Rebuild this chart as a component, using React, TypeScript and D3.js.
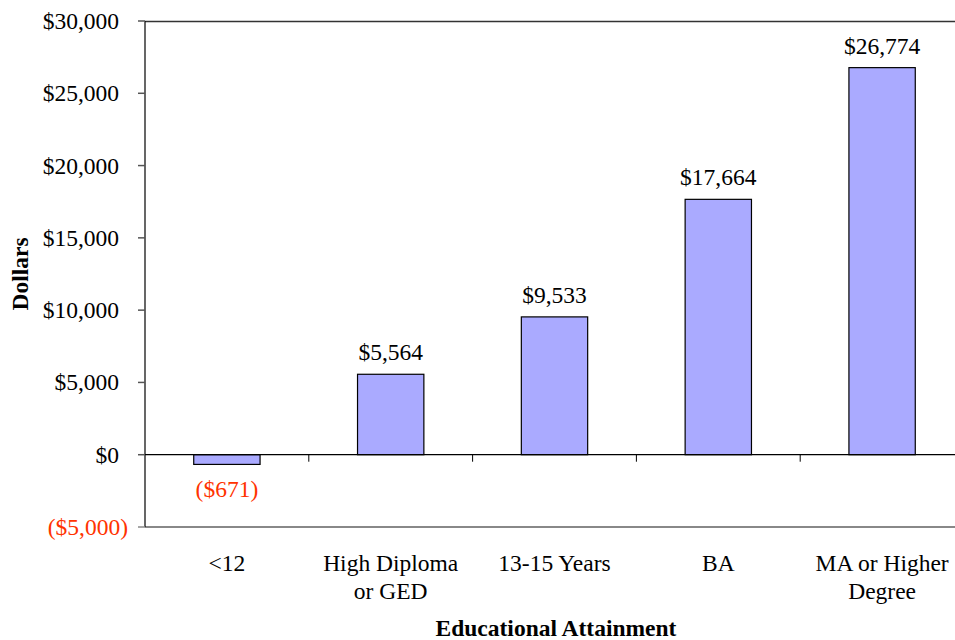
import React from "react";
import * as d3 from "d3";

const categories = ["<12", "High Diploma|or GED", "13-15 Years", "BA", "MA or Higher|Degree"];
const values = [-671, 5564, 9533, 17664, 26774];
const yTicks = [-5000, 0, 5000, 10000, 15000, 20000, 25000, 30000];

const W = 955, H = 640;
const left = 145, right = 964, top = 21, bottom = 527;

const fmt = (v: number) => {
  const s = "$" + d3.format(",")(Math.abs(v));
  return v < 0 ? `(${s})` : s;
};

export default function App() {
  const x = d3.scaleBand<string>().domain(categories).range([left, right]).paddingInner(0).paddingOuter(0);
  const y = d3.scaleLinear().domain([-5000, 30000]).range([bottom, top]);
  const bw = x.bandwidth() * 0.405;
  const font = "'Liberation Serif', 'Times New Roman', serif";
  const red = "#FF3300";
  const fs = 23.5;
  return (
    <svg width={W} height={H} style={{ position: "absolute", left: 0, top: 0, background: "#fff" }} fontFamily={font}>
      <rect x={0} y={0} width={W} height={H} fill="#fff" />
      <line x1={left} x2={right} y1={top + 0.5} y2={top + 0.5} stroke="#333" strokeWidth={1.5} />
      <line x1={left} x2={right} y1={bottom} y2={bottom} stroke="#888" strokeWidth={2} />
      {categories.map((c, i) => {
        const v = values[i];
        const cx = (x(c) as number) + x.bandwidth() / 2;
        const y0 = y(Math.max(0, v));
        const h = Math.abs(y(v) - y(0));
        return (
          <g key={c}>
            <rect x={cx - bw / 2} y={y0} width={bw} height={h} fill="#AAAAFF" stroke="#000" strokeWidth={1.2} />
            <text
              x={cx}
              y={v >= 0 ? y(v) - 14 : y(v) + 33}
              textAnchor="middle"
              fontSize={fs}
              fill={v >= 0 ? "#000" : red}
            >
              {fmt(v)}
            </text>
          </g>
        );
      })}
      <line x1={left} x2={right} y1={y(0)} y2={y(0)} stroke="#000" strokeWidth={1.2} />
      {categories.slice(1).map((c) => (
        <line key={c} x1={x(c) as number} x2={x(c) as number} y1={y(0)} y2={y(0) + 7} stroke="#000" strokeWidth={1} />
      ))}
      <line x1={left} x2={left} y1={top} y2={bottom} stroke="#000" strokeWidth={1.2} />
      {yTicks.map((t) => (
        <g key={t}>
          <line x1={left - 7} x2={left} y1={y(t)} y2={y(t)} stroke={t === -5000 ? "#888" : "#555"} strokeWidth={1.5} />
          <text x={left - 26 + (t < 0 ? 9 : 0)} y={y(t) + 8} textAnchor="end" fontSize={fs} fill={t < 0 ? red : "#000"}>
            {fmt(t)}
          </text>
        </g>
      ))}
      {categories.map((c) => {
        const cx = (x(c) as number) + x.bandwidth() / 2;
        return (
          <text key={c} x={cx} textAnchor="middle" fontSize={fs} fill="#000">
            {c.split("|").map((line, j) => (
              <tspan key={j} x={cx} y={571 + j * 28}>
                {line}
              </tspan>
            ))}
          </text>
        );
      })}
      <text x={556} y={636} textAnchor="middle" fontSize={fs} fontWeight="bold">
        Educational Attainment
      </text>
      <text transform={`translate(28, ${(top + bottom) / 2}) rotate(-90)`} textAnchor="middle" fontSize={fs} fontWeight="bold">
        Dollars
      </text>
    </svg>
  );
}
